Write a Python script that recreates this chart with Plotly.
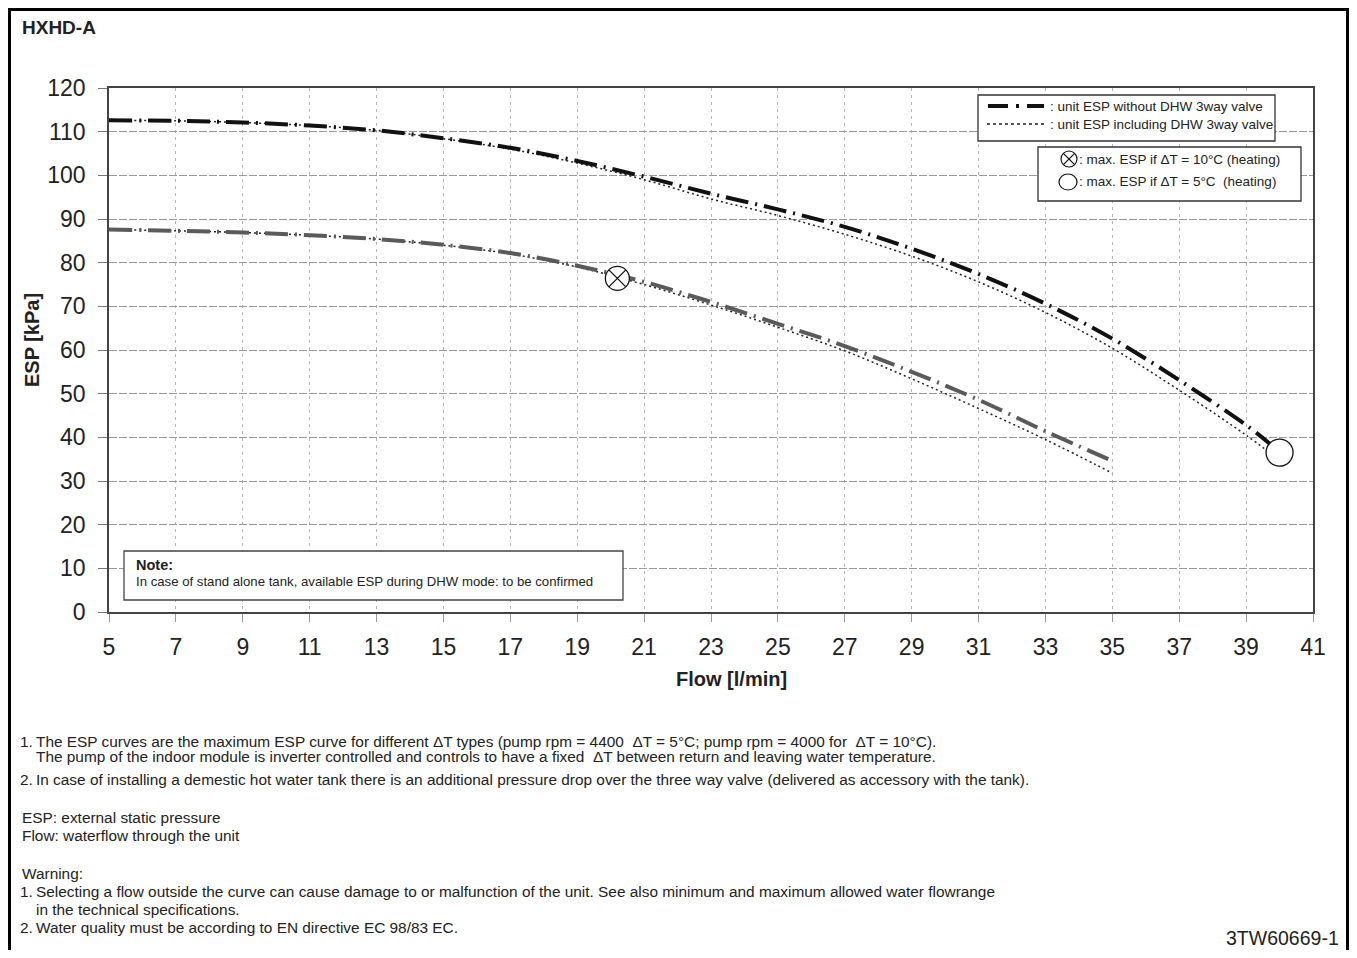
import plotly.graph_objects as go

# ---------------- data ----------------
flow_hi = [5, 7, 9, 11, 13, 15, 17, 19, 21, 23, 25, 27, 29, 31, 33, 35, 37, 39, 39.7]
esp_hi_no_valve = [112.6, 112.5, 112.1, 111.4, 110.3, 108.5, 106.3, 103.3, 99.7, 95.8,
                   92.2, 88.2, 83.2, 77.4, 70.6, 62.6, 53.1, 42.8, 38.6]
esp_hi_valve = [112.6, 112.5, 112.1, 111.4, 110.3, 108.4, 106.0, 102.8, 99.0, 94.6,
                90.8, 86.5, 81.5, 75.6, 68.6, 60.4, 50.8, 40.5, 36.5]

flow_lo = [5, 7, 9, 11, 13, 15, 17, 19, 21, 23, 25, 27, 29, 31, 33, 35]
esp_lo_no_valve = [87.6, 87.3, 86.9, 86.3, 85.4, 84.1, 82.2, 79.3, 75.6, 71.0,
                   66.0, 60.9, 55.0, 48.6, 41.4, 34.6]
esp_lo_valve = [87.6, 87.3, 86.9, 86.3, 85.4, 84.0, 82.0, 79.0, 75.0, 70.3,
                65.2, 59.8, 53.4, 46.6, 39.5, 31.8]

max_dt10_flow, max_dt10_esp = [20.2], [76.4]
max_dt5_flow, max_dt5_esp = [40.0], [36.5]

x_ticks = list(range(5, 42, 2))
y_ticks = list(range(0, 121, 10))

# ---------------- layout helpers ----------------
OFF = 8  # default page body margin
W, H = 1357 - 2 * OFF, 958 - 2 * OFF
L, R, T, B = 109, 1313, 88, 612  # plot area in window pixels


def px(x):
    return (x - L) / (R - L)


def py(y):
    return (B - y) / (B - T)


FONT = "Liberation Sans, Arial, sans-serif"
INK = "#222"

fig = go.Figure()

DASHDOT = "23px,7px,2px,7px"
DOTTED = "2px,3px"

fig.add_trace(go.Scatter(x=flow_hi, y=esp_hi_valve, mode="lines",
                         line=dict(color="#222", width=1.5, dash=DOTTED),
                         line_shape="spline", showlegend=False))
fig.add_trace(go.Scatter(x=flow_hi, y=esp_hi_no_valve, mode="lines",
                         line=dict(color="#111", width=4, dash=DASHDOT),
                         line_shape="spline", showlegend=False))
fig.add_trace(go.Scatter(x=flow_lo, y=esp_lo_valve, mode="lines",
                         line=dict(color="#222", width=1.5, dash=DOTTED),
                         line_shape="spline", showlegend=False))
fig.add_trace(go.Scatter(x=flow_lo, y=esp_lo_no_valve, mode="lines",
                         line=dict(color="#5a5a5a", width=4, dash=DASHDOT),
                         line_shape="spline", showlegend=False))

fig.add_trace(go.Scatter(x=max_dt10_flow, y=max_dt10_esp, mode="markers",
                         marker=dict(symbol="circle-x", size=24, color="white",
                                     line=dict(color="#111", width=1.3)),
                         showlegend=False, cliponaxis=False))
fig.add_trace(go.Scatter(x=max_dt5_flow, y=max_dt5_esp, mode="markers",
                         marker=dict(symbol="circle", size=27, color="white",
                                     line=dict(color="#111", width=1.3)),
                         showlegend=False, cliponaxis=False))

shapes = []
annotations = []


def text(x, y, t, size, xanchor="left", **kw):
    annotations.append(dict(xref="paper", yref="paper", x=px(x), y=py(y), text=t,
                            showarrow=False, xanchor=xanchor, yanchor="middle",
                            font=dict(family=FONT, size=size, color=INK), **kw))


def line(x0, y0, x1, y1, color="black", width=3, dash=None):
    ln = dict(color=color, width=width)
    if dash:
        ln["dash"] = dash
    shapes.append(dict(type="line", xref="paper", yref="paper",
                       x0=px(x0), x1=px(x1), y0=py(y0), y1=py(y1), line=ln))


# outer frame (kept inside the drawable figure area)
line(9.5, 9.5, 1347.5, 9.5)
line(9.5, 8, 9.5, 960)
line(1347.5, 8, 1347.5, 960)

# legend box 1
shapes.append(dict(type="rect", xref="paper", yref="paper",
                   x0=px(978), x1=px(1275), y0=py(95), y1=py(141),
                   line=dict(color="#333", width=1.3), fillcolor="white"))
line(988, 106, 1044, 106, color="#111", width=4, dash="20px,8px,3px,8px")
line(987, 124, 1047, 124, color="#222", width=1.3, dash="3px,3px")
text(1048, 107, ": unit ESP without DHW 3way valve", 13.5)
text(1048, 124, ": unit ESP including DHW 3way valve", 13.5)

# legend box 2
shapes.append(dict(type="rect", xref="paper", yref="paper",
                   x0=px(1038), x1=px(1301), y0=py(147), y1=py(201),
                   line=dict(color="#333", width=1.3), fillcolor="white"))
cx, cy, r = 1069, 159, 8
shapes.append(dict(type="circle", xref="paper", yref="paper",
                   x0=px(cx - r), x1=px(cx + r), y0=py(cy - r), y1=py(cy + r),
                   line=dict(color="#111", width=1.2)))
d = r * 0.707
line(cx - d, cy - d, cx + d, cy + d, color="#111", width=1.2)
line(cx - d, cy + d, cx + d, cy - d, color="#111", width=1.2)
cx2, cy2 = 1068, 182
shapes.append(dict(type="circle", xref="paper", yref="paper",
                   x0=px(cx2 - 9), x1=px(cx2 + 9), y0=py(cy2 - 8), y1=py(cy2 + 8),
                   line=dict(color="#111", width=1.2)))
text(1077, 159, ": max. ESP if ΔT = 10°C (heating)", 13.5)
text(1077, 181, ": max. ESP if ΔT = 5°C  (heating)", 13.5)

# note box
shapes.append(dict(type="rect", xref="paper", yref="paper",
                   x0=px(124), x1=px(623), y0=py(551), y1=py(600),
                   line=dict(color="#444", width=1.3), fillcolor="white"))
text(134, 565, "<b>Note:</b>", 14.5)
text(134, 581, "In case of stand alone tank, available ESP during DHW mode: to be confirmed", 13.2)

# title
text(20, 28, "<b>HXHD-A</b>", 19)

# axis titles
text(32, 340, "<b>ESP [kPa]</b>", 20, xanchor="center", textangle=-90)
text(731, 679, "<b>Flow [l/min]</b>", 20, xanchor="center")

# footnotes
FS = 15.4
foot = [
    (741, "1.", "The ESP curves are the maximum ESP curve for different ΔT types (pump rpm = 4400  ΔT = 5°C; pump rpm = 4000 for  ΔT = 10°C)."),
    (757, "", "The pump of the indoor module is inverter controlled and controls to have a fixed  ΔT between return and leaving water temperature."),
    (780, "2.", "In case of installing a demestic hot water tank there is an additional pressure drop over the three way valve (delivered as accessory with the tank)."),
    (891, "1.", "Selecting a flow outside the curve can cause damage to or malfunction of the unit. See also minimum and maximum allowed water flowrange"),
    (909, "", "in the technical specifications."),
    (927, "2.", "Water quality must be according to EN directive EC 98/83 EC."),
]
for fy, num, t in foot:
    if num:
        text(18, fy, num, FS)
    text(34, fy, t, FS)
text(20, 817, "ESP: external static pressure", FS)
text(20, 835, "Flow: waterflow through the unit", FS)
text(20, 873, "Warning:", FS)

text(1341, 938, "3TW60669-1", 19.5, xanchor="right")

fig.update_layout(
    width=W, height=H,
    margin=dict(l=L - OFF, r=W - (R - OFF), t=T - OFF, b=H - (B - OFF), pad=0),
    paper_bgcolor="white", plot_bgcolor="white",
    shapes=shapes, annotations=annotations,
    showlegend=False,
    xaxis=dict(range=[5, 41], tickmode="array", tickvals=x_ticks,
               ticktext=[str(v) for v in x_ticks],
               showgrid=True, gridcolor="#b5b5b5", gridwidth=1, griddash="3px,4px",
               showline=True, linecolor="#444", linewidth=1.5, mirror=True,
               ticks="outside", ticklen=8, tickcolor="#999", tickwidth=1,
               ticklabelstandoff=6,
               tickfont=dict(family=FONT, size=23, color=INK),
               zeroline=False, fixedrange=True),
    yaxis=dict(range=[0, 120], tickmode="array", tickvals=y_ticks,
               ticktext=[str(v) for v in y_ticks],
               showgrid=True, gridcolor="#9a9a9a", gridwidth=1, griddash="8px,2px",
               showline=True, linecolor="#444", linewidth=1.5, mirror=True,
               ticks="outside", ticklen=9, tickcolor="#777", tickwidth=1,
               ticklabelstandoff=8,
               tickfont=dict(family=FONT, size=23, color=INK),
               zeroline=False, fixedrange=True),
)

fig.write_html("out.html")
